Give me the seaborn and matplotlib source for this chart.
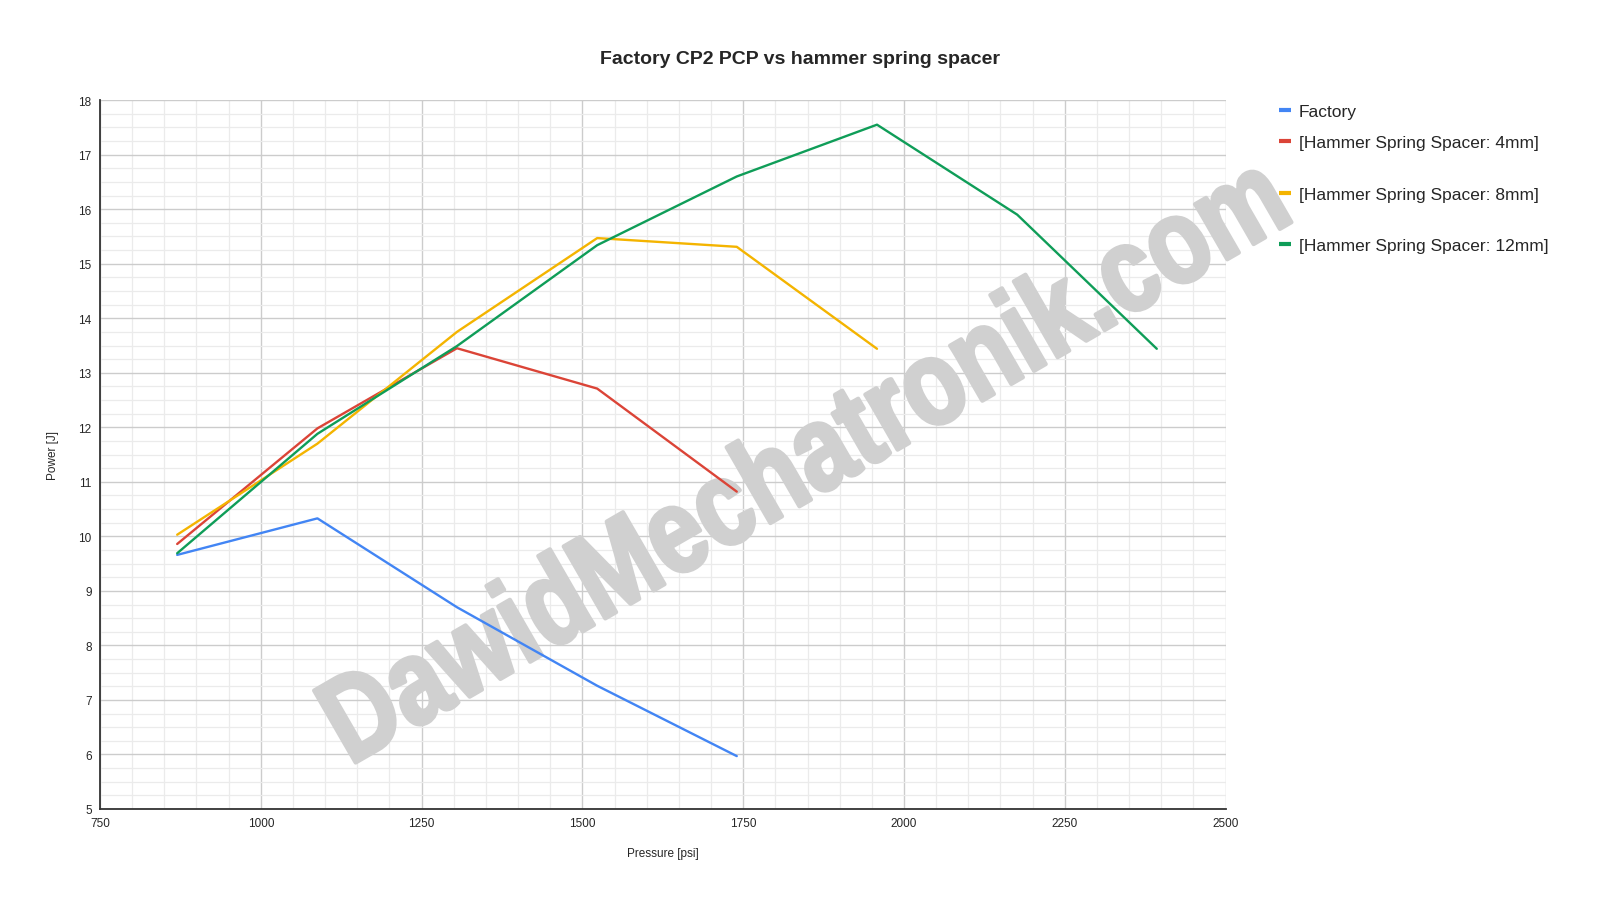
import matplotlib
matplotlib.use("Agg")
import matplotlib.pyplot as plt
from matplotlib.ticker import MultipleLocator
from matplotlib.lines import Line2D
from matplotlib.patheffects import AbstractPathEffect
from matplotlib.transforms import Affine2D
import seaborn as sns
import pandas as pd

# ---- data ----
pressure = [870, 1088, 1305, 1523, 1740, 1958, 2176, 2393]
factory = [9.66, 10.33, 8.70, 7.26, 5.97]
spacer_4mm = [9.86, 11.98, 13.45, 12.71, 10.82]
spacer_8mm = [10.03, 11.70, 13.75, 15.47, 15.31, 13.44]
spacer_12mm = [9.69, 11.88, 13.49, 15.34, 16.60, 17.55, 15.90, 13.44]
series_names = ["Factory", "[Hammer Spring Spacer: 4mm]",
                "[Hammer Spring Spacer: 8mm]", "[Hammer Spring Spacer: 12mm]"]
series_values = [factory, spacer_4mm, spacer_8mm, spacer_12mm]
colors = ["#4285F4", "#DB4437", "#F4B400", "#0F9D58"]

rows = []
for name, vals in zip(series_names, series_values):
    for p, v in zip(pressure, vals):
        rows.append({"Pressure": p, "Power": v, "Series": name})
df = pd.DataFrame(rows)

sns.set_style("white")
plt.rcParams["font.family"] = ["Liberation Sans", "DejaVu Sans"]


class Condense(AbstractPathEffect):
    """Squeeze glyphs horizontally (in the text's own frame) and embolden."""
    def __init__(self, sx, lw):
        super().__init__()
        self.sx = sx
        self.lw = lw

    def draw_path(self, renderer, gc, tpath, affine, rgbFace=None):
        ext = tpath.get_extents()
        cx = (ext.x0 + ext.x1) / 2
        t = Affine2D().translate(-cx, 0).scale(self.sx, 1).translate(cx, 0) + affine
        gc0 = renderer.new_gc()
        gc0.copy_properties(gc)
        gc0.set_linewidth(self.lw)
        gc0.set_foreground(rgbFace)
        gc0.set_joinstyle("round")
        renderer.draw_path(gc0, tpath, t, rgbFace)
        gc0.restore()


fig = plt.figure(figsize=(16, 9.03), dpi=100)
ax = fig.add_axes([0.0625, 0.103, 0.7035, 0.785])

sns.lineplot(data=df, x="Pressure", y="Power", hue="Series",
             hue_order=series_names, palette=colors, sort=False,
             estimator=None, linewidth=1.7, legend=False, ax=ax, zorder=3)

ax.set_xlim(750, 2500)
ax.set_ylim(5, 18)
ax.xaxis.set_major_locator(MultipleLocator(250))
ax.xaxis.set_minor_locator(MultipleLocator(50))
ax.yaxis.set_major_locator(MultipleLocator(1))
ax.yaxis.set_minor_locator(MultipleLocator(0.25))
ax.grid(which="major", color="#cccccc", linewidth=1.0, zorder=0)
ax.grid(which="minor", color="#ebebeb", linewidth=0.9, zorder=0)
ax.set_axisbelow(True)
ax.tick_params(axis="x", which="major", direction="in", length=8, width=1.2,
               color="#555555", labelsize=8.5, pad=6)
ax.tick_params(axis="y", which="major", length=0, labelsize=8.5, pad=6)
ax.tick_params(which="minor", length=0)
for s in ["top", "right"]:
    ax.spines[s].set_visible(False)
for s in ["left", "bottom"]:
    ax.spines[s].set_color("#333333")
    ax.spines[s].set_linewidth(1.3)
ax.set_xlabel("Pressure [psi]", fontsize=8.5, labelpad=13)
ax.set_ylabel("Power [J]", fontsize=8.5, labelpad=14)

fig.suptitle("Factory CP2 PCP vs hammer spring spacer", x=0.5, y=1 - 59 / 903,
             va="center", fontsize=14, fontweight="bold")

# watermark
wm = ax.text(808 / 1600, 1 - 466 / 903, "DawidMechatronik.com",
             transform=fig.transFigure, ha="center", va="center",
             rotation=30, rotation_mode="anchor",
             fontsize=87, fontweight="bold", color="#d0d0d0",
             family=["Liberation Sans", "DejaVu Sans"],
             zorder=2, clip_on=False)
wm.set_path_effects([Condense(0.81, 3.0)])

# legend entries (Google-chart style spacing)
leg_y = [112, 143, 195, 246]
for name, col, yy in zip(series_names, colors, leg_y):
    h = Line2D([], [], color=col, linewidth=3, solid_capstyle="butt")
    fig.legend([h], [name], loc="center left",
               bbox_to_anchor=(1279 / 1600, 1 - yy / 903),
               frameon=False, fontsize=12.5, handlelength=0.7,
               handletextpad=0.45, borderpad=0, borderaxespad=0)

fig.savefig("out.png", dpi=100, facecolor="white")
